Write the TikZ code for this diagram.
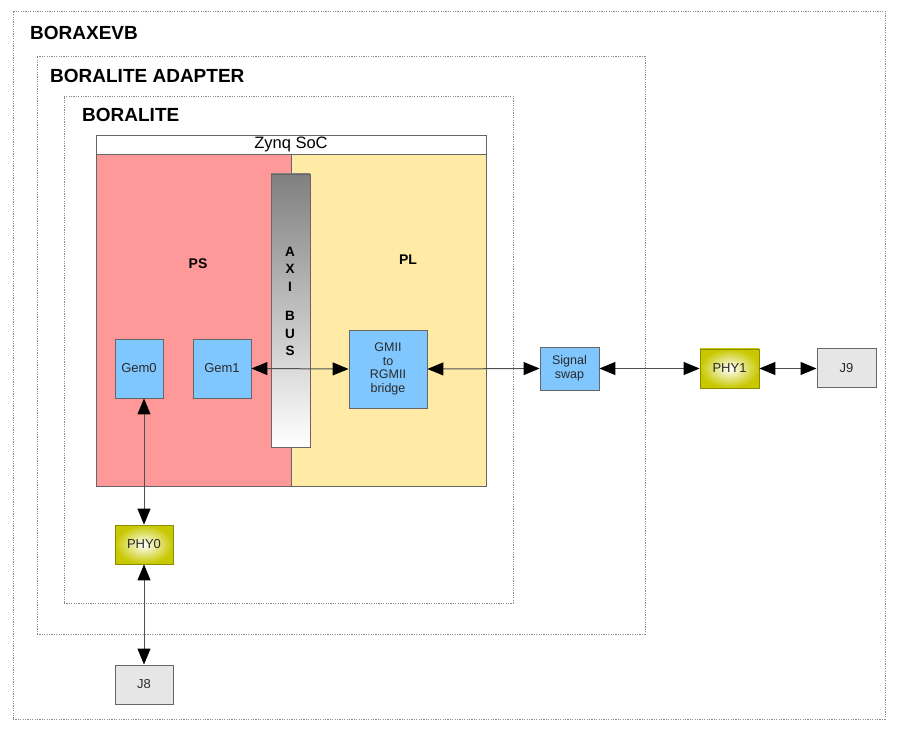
\documentclass[tikz,border=0pt]{standalone}
\usepackage{fontspec}
\setmainfont{Liberation Sans}
\usetikzlibrary{arrows.meta}
\definecolor{psred}{HTML}{FF9999}
\definecolor{plyellow}{HTML}{FFEBA6}
\definecolor{blockblue}{HTML}{80C6FF}
\definecolor{phyedge}{HTML}{C8C800}
\definecolor{phyborder}{HTML}{8C8C00}
\definecolor{jgray}{HTML}{E6E6E6}
\definecolor{edgegray}{HTML}{666666}
\definecolor{linegray}{HTML}{505050}
\definecolor{dotgray}{HTML}{8A8A8A}
\definecolor{txt}{HTML}{2A2A2A}
\begin{document}
\begin{tikzpicture}[x=1pt,y=-1pt,
  container/.style={draw=dotgray, line width=0.8pt, dash pattern=on 1.2pt off 1.2pt, inner sep=0pt},
  title/.style={anchor=west, inner sep=0pt, font=\fontsize{19}{21}\selectfont\bfseries},
  area/.style={draw=edgegray, line width=0.8pt, inner sep=0pt},
  bluebox/.style={draw=edgegray, line width=0.8pt, fill=blockblue, inner sep=0pt, text=txt, align=center, font=\fontsize{13}{13.5}\selectfont},
  phybox/.style={draw=phyborder, line width=0.8pt, inner color=white, outer color=phyedge, inner sep=0pt, text=txt, font=\fontsize{13}{14}\selectfont},
  jbox/.style={draw=edgegray, line width=1pt, fill=jgray, inner sep=0pt, text=txt, font=\fontsize{13}{14}\selectfont},
  tip/.tip={Triangle[length=16pt,width=13pt]},
  link/.style={draw=linegray, line width=1pt, tip-tip, arrows={[color=black]}}
]
\useasboundingbox (0,0) rectangle (900,735);

% containers
\node[container, minimum width=872pt, minimum height=708pt] (evb) at (449,365) {};
\node[title] (evbt) at (30,33) {BORAXEVB};
\node[container, minimum width=608pt, minimum height=578pt] (adp) at (341,345) {};
\node[title] (adpt) at (50,76) {BORALITE ADAPTER};
\node[container, minimum width=449pt, minimum height=507pt] (lite) at (288.5,349.5) {};
\node[title] (litet) at (82,115) {BORALITE};

% Zynq
\node[area, fill=white, minimum width=390pt, minimum height=19pt, font=\fontsize{16.5}{18}\selectfont, text=black] (zynq) at (291,144.5) {Zynq SoC};
\node[area, fill=psred, minimum width=195pt, minimum height=332pt] (ps) at (193.5,320) {};
\node[area, fill=plyellow, minimum width=195pt, minimum height=332pt] (pl) at (388.5,320) {};
\node[inner sep=0pt, font=\fontsize{14}{16}\selectfont\bfseries] (pst) at (198,264) {PS};
\node[inner sep=0pt, font=\fontsize{14}{16}\selectfont\bfseries] (plt) at (408,260) {PL};

% AXI bus
\node[draw=edgegray, line width=0.8pt, top color=black!50, bottom color=white, inner sep=0pt, minimum width=39pt, minimum height=273pt] (axi) at (290.5,310.5) {};
\node[inner sep=0pt, align=center, font=\fontsize{13.5}{17.5}\selectfont\bfseries] (axit) at (290,301.5) {A\\X\\I\\[12pt]B\\U\\S};

% blocks
\node[bluebox, minimum width=48pt, minimum height=59pt] (gem0) at (139,368.5) {Gem0};
\node[bluebox, minimum width=58pt, minimum height=59pt] (gem1) at (222,368.5) {Gem1};
\node[bluebox, minimum width=78pt, minimum height=78pt, font=\fontsize{12.5}{13.5}\selectfont] (bridge) at (388,369) {GMII\\to\\RGMII\\bridge};
\node[bluebox, minimum width=59pt, minimum height=43pt, font=\fontsize{12.5}{13.5}\selectfont] (swap) at (569.5,368.5) {Signal\\swap};
\node[phybox, minimum width=59pt, minimum height=39pt] (phy1) at (729.5,368.5) {PHY1};
\node[jbox, minimum width=59pt, minimum height=39pt] (j9) at (846.5,368.5) {J9};
\node[phybox, minimum width=58pt, minimum height=39pt] (phy0) at (144,544.5) {PHY0};
\node[jbox, minimum width=58pt, minimum height=39pt] (j8) at (144,684.5) {J8};

% links
\draw[link] (gem1.east) -- (bridge.west);
\draw[link] (bridge.east) -- (swap.west);
\draw[link] (swap.east) -- (phy1.west);
\draw[link] (phy1.east) -- (j9.west);
\draw[link] (gem0.south -| phy0.north) -- (phy0.north);
\draw[link] (phy0.south) -- (j8.north);
\end{tikzpicture}
\end{document}
